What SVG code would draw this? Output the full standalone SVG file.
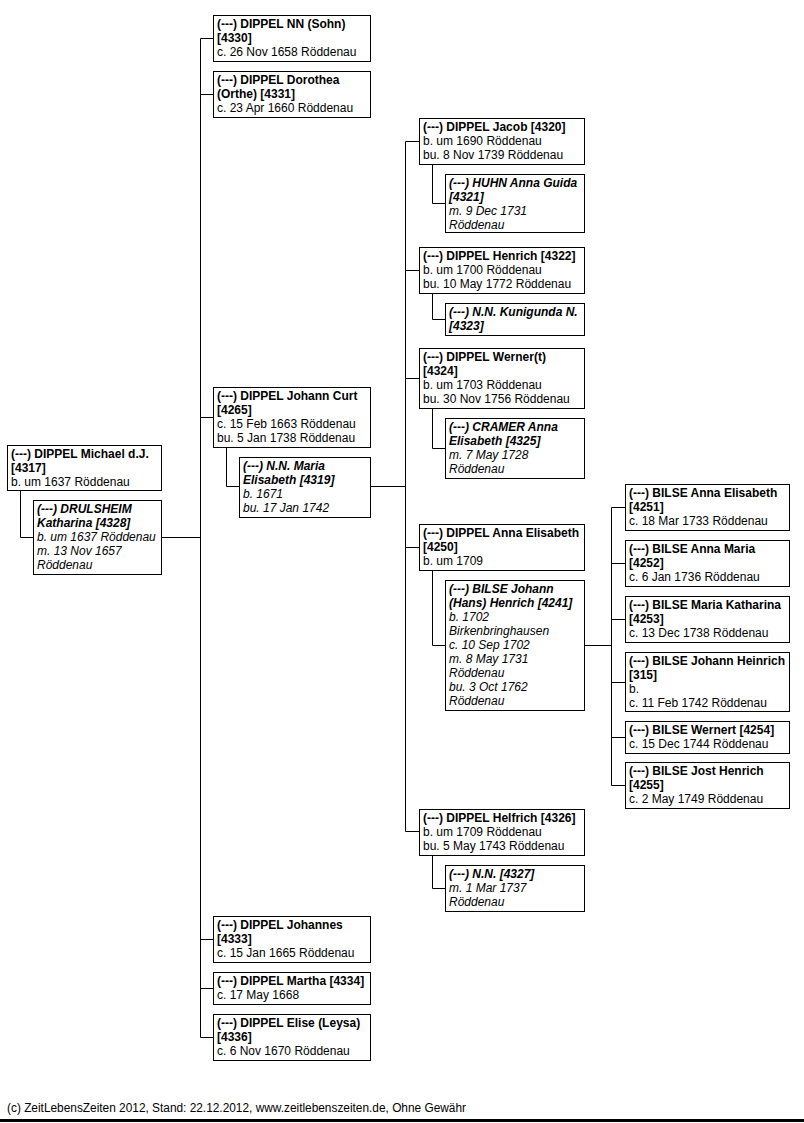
<svg xmlns="http://www.w3.org/2000/svg" width="804" height="1123" viewBox="0 0 804 1123">
<style>
rect.b{fill:#fff;stroke:#000;stroke-width:1}
text{font-family:"Liberation Sans",Arial,sans-serif;font-size:12px;fill:#000}
.n{font-weight:bold}
.i{font-style:italic}
#connectors path{fill:none;stroke:#000;stroke-width:1}
</style>
<rect x="0" y="0" width="804" height="1123" fill="#fff"/>
<g id="connectors">
<path d="M20.5,490 V537.5 H33"/>
<path d="M161,537.5 H200.5"/>
<path d="M200.5,38.5 V1037.5"/>
<path d="M200.5,38.5 H213 M200.5,94.5 H213 M200.5,417.5 H213 M200.5,939.5 H213 M200.5,988.5 H213 M200.5,1037.5 H213"/>
<path d="M226.5,447 V486.5 H239"/>
<path d="M370,486.5 H405.5"/>
<path d="M405.5,141.5 V831.5"/>
<path d="M405.5,141.5 H419 M405.5,270.5 H419 M405.5,378.5 H419 M405.5,547.5 H419 M405.5,831.5 H419"/>
<path d="M432.5,164 V203.5 H445"/>
<path d="M432.5,293 V319.5 H445"/>
<path d="M432.5,408 V448.5 H445"/>
<path d="M432.5,570 V645.5 H445"/>
<path d="M432.5,855 V888.5 H445"/>
<path d="M584,645.5 H611.5"/>
<path d="M611.5,507.5 V785.5"/>
<path d="M611.5,507.5 H625 M611.5,563.5 H625 M611.5,619.5 H625 M611.5,682.5 H625 M611.5,737.5 H625 M611.5,785.5 H625"/>
</g>
<g id="n4317"><rect class="b" x="7.5" y="445.5" width="154" height="45"/>
<text x="11" y="458"><tspan class="n">(---) DIPPEL Michael d.J.</tspan><tspan class="n" x="11" dy="14">[4317]</tspan><tspan x="11" dy="14">b. um 1637 Röddenau</tspan></text></g>
<g id="n4328"><rect class="b" x="33.5" y="500.5" width="128" height="74"/>
<text x="37" y="513" class="i"><tspan class="n">(---) DRULSHEIM</tspan><tspan class="n" x="37" dy="14">Katharina [4328]</tspan><tspan x="37" dy="14">b. um 1637 Röddenau</tspan><tspan x="37" dy="14">m. 13 Nov 1657</tspan><tspan x="37" dy="14">Röddenau</tspan></text></g>
<g id="n4330"><rect class="b" x="213.5" y="15.5" width="157" height="46"/>
<text x="217" y="28"><tspan class="n">(---) DIPPEL NN (Sohn)</tspan><tspan class="n" x="217" dy="14">[4330]</tspan><tspan x="217" dy="14">c. 26 Nov 1658 Röddenau</tspan></text></g>
<g id="n4331"><rect class="b" x="213.5" y="71.5" width="157" height="46"/>
<text x="217" y="84"><tspan class="n">(---) DIPPEL Dorothea</tspan><tspan class="n" x="217" dy="14">(Orthe) [4331]</tspan><tspan x="217" dy="14">c. 23 Apr 1660 Röddenau</tspan></text></g>
<g id="n4265"><rect class="b" x="213.5" y="387.5" width="157" height="60"/>
<text x="217" y="400"><tspan class="n">(---) DIPPEL Johann Curt</tspan><tspan class="n" x="217" dy="14">[4265]</tspan><tspan x="217" dy="14">c. 15 Feb 1663 Röddenau</tspan><tspan x="217" dy="14">bu. 5 Jan 1738 Röddenau</tspan></text></g>
<g id="n4319"><rect class="b" x="239.5" y="457.5" width="131" height="60"/>
<text x="243" y="470" class="i"><tspan class="n">(---) N.N. Maria</tspan><tspan class="n" x="243" dy="14">Elisabeth [4319]</tspan><tspan x="243" dy="14">b. 1671</tspan><tspan x="243" dy="14">bu. 17 Jan 1742</tspan></text></g>
<g id="n4333"><rect class="b" x="213.5" y="916.5" width="157" height="46"/>
<text x="217" y="929"><tspan class="n">(---) DIPPEL Johannes</tspan><tspan class="n" x="217" dy="14">[4333]</tspan><tspan x="217" dy="14">c. 15 Jan 1665 Röddenau</tspan></text></g>
<g id="n4334"><rect class="b" x="213.5" y="972.5" width="157" height="32"/>
<text x="217" y="985"><tspan class="n">(---) DIPPEL Martha [4334]</tspan><tspan x="217" dy="14">c. 17 May 1668</tspan></text></g>
<g id="n4336"><rect class="b" x="213.5" y="1014.5" width="157" height="46"/>
<text x="217" y="1027"><tspan class="n">(---) DIPPEL Elise (Leysa)</tspan><tspan class="n" x="217" dy="14">[4336]</tspan><tspan x="217" dy="14">c. 6 Nov 1670 Röddenau</tspan></text></g>
<g id="n4320"><rect class="b" x="419.5" y="118.5" width="165" height="46"/>
<text x="423" y="131"><tspan class="n">(---) DIPPEL Jacob [4320]</tspan><tspan x="423" dy="14">b. um 1690 Röddenau</tspan><tspan x="423" dy="14">bu. 8 Nov 1739 Röddenau</tspan></text></g>
<g id="n4321"><rect class="b" x="445.5" y="174.5" width="139" height="58"/>
<text x="449" y="187" class="i"><tspan class="n">(---) HUHN Anna Guida</tspan><tspan class="n" x="449" dy="14">[4321]</tspan><tspan x="449" dy="14">m. 9 Dec 1731</tspan><tspan x="449" dy="14">Röddenau</tspan></text></g>
<g id="n4322"><rect class="b" x="419.5" y="247.5" width="165" height="46"/>
<text x="423" y="260"><tspan class="n">(---) DIPPEL Henrich [4322]</tspan><tspan x="423" dy="14">b. um 1700 Röddenau</tspan><tspan x="423" dy="14">bu. 10 May 1772 Röddenau</tspan></text></g>
<g id="n4323"><rect class="b" x="445.5" y="303.5" width="139" height="32"/>
<text x="449" y="316" class="i"><tspan class="n">(---) N.N. Kunigunda N.</tspan><tspan class="n" x="449" dy="14">[4323]</tspan></text></g>
<g id="n4324"><rect class="b" x="419.5" y="348.5" width="165" height="60"/>
<text x="423" y="361"><tspan class="n">(---) DIPPEL Werner(t)</tspan><tspan class="n" x="423" dy="14">[4324]</tspan><tspan x="423" dy="14">b. um 1703 Röddenau</tspan><tspan x="423" dy="14">bu. 30 Nov 1756 Röddenau</tspan></text></g>
<g id="n4325"><rect class="b" x="445.5" y="418.5" width="139" height="60"/>
<text x="449" y="431" class="i"><tspan class="n">(---) CRAMER Anna</tspan><tspan class="n" x="449" dy="14">Elisabeth [4325]</tspan><tspan x="449" dy="14">m. 7 May 1728</tspan><tspan x="449" dy="14">Röddenau</tspan></text></g>
<g id="n4250"><rect class="b" x="419.5" y="524.5" width="165" height="46"/>
<text x="423" y="537"><tspan class="n">(---) DIPPEL Anna Elisabeth</tspan><tspan class="n" x="423" dy="14">[4250]</tspan><tspan x="423" dy="14">b. um 1709</tspan></text></g>
<g id="n4241"><rect class="b" x="445.5" y="580.5" width="139" height="130"/>
<text x="449" y="593" class="i"><tspan class="n">(---) BILSE Johann</tspan><tspan class="n" x="449" dy="14">(Hans) Henrich [4241]</tspan><tspan x="449" dy="14">b. 1702</tspan><tspan x="449" dy="14">Birkenbringhausen</tspan><tspan x="449" dy="14">c. 10 Sep 1702</tspan><tspan x="449" dy="14">m. 8 May 1731</tspan><tspan x="449" dy="14">Röddenau</tspan><tspan x="449" dy="14">bu. 3 Oct 1762</tspan><tspan x="449" dy="14">Röddenau</tspan></text></g>
<g id="n4326"><rect class="b" x="419.5" y="809.5" width="165" height="46"/>
<text x="423" y="822"><tspan class="n">(---) DIPPEL Helfrich [4326]</tspan><tspan x="423" dy="14">b. um 1709 Röddenau</tspan><tspan x="423" dy="14">bu. 5 May 1743 Röddenau</tspan></text></g>
<g id="n4327"><rect class="b" x="445.5" y="865.5" width="139" height="46"/>
<text x="449" y="878" class="i"><tspan class="n">(---) N.N. [4327]</tspan><tspan x="449" dy="14">m. 1 Mar 1737</tspan><tspan x="449" dy="14">Röddenau</tspan></text></g>
<g id="n4251"><rect class="b" x="625.5" y="484.5" width="164" height="46"/>
<text x="629" y="497"><tspan class="n">(---) BILSE Anna Elisabeth</tspan><tspan class="n" x="629" dy="14">[4251]</tspan><tspan x="629" dy="14">c. 18 Mar 1733 Röddenau</tspan></text></g>
<g id="n4252"><rect class="b" x="625.5" y="540.5" width="164" height="46"/>
<text x="629" y="553"><tspan class="n">(---) BILSE Anna Maria</tspan><tspan class="n" x="629" dy="14">[4252]</tspan><tspan x="629" dy="14">c. 6 Jan 1736 Röddenau</tspan></text></g>
<g id="n4253"><rect class="b" x="625.5" y="596.5" width="164" height="46"/>
<text x="629" y="609"><tspan class="n">(---) BILSE Maria Katharina</tspan><tspan class="n" x="629" dy="14">[4253]</tspan><tspan x="629" dy="14">c. 13 Dec 1738 Röddenau</tspan></text></g>
<g id="n315"><rect class="b" x="625.5" y="652.5" width="164" height="59"/>
<text x="629" y="665"><tspan class="n">(---) BILSE Johann Heinrich</tspan><tspan class="n" x="629" dy="14">[315]</tspan><tspan x="629" dy="14">b.</tspan><tspan x="629" dy="14">c. 11 Feb 1742 Röddenau</tspan></text></g>
<g id="n4254"><rect class="b" x="625.5" y="721.5" width="164" height="32"/>
<text x="629" y="734"><tspan class="n">(---) BILSE Wernert [4254]</tspan><tspan x="629" dy="14">c. 15 Dec 1744 Röddenau</tspan></text></g>
<g id="n4255"><rect class="b" x="625.5" y="762.5" width="164" height="46"/>
<text x="629" y="775"><tspan class="n">(---) BILSE Jost Henrich</tspan><tspan class="n" x="629" dy="14">[4255]</tspan><tspan x="629" dy="14">c. 2 May 1749 Röddenau</tspan></text></g>
<text x="7" y="1112" textLength="459" lengthAdjust="spacingAndGlyphs">(c) ZeitLebensZeiten 2012, Stand: 22.12.2012, www.zeitlebenszeiten.de, Ohne Gewähr</text>
<rect x="0" y="1119" width="804" height="3" fill="#000"/>
</svg>
